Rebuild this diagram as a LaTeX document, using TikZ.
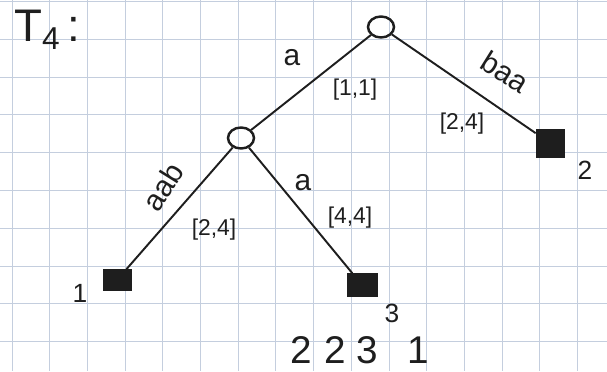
\documentclass[tikz,border=0pt]{standalone}
\usepackage{fontspec}
\setmainfont{Liberation Sans}
\usetikzlibrary{shapes,arrows}
\definecolor{gridblue}{RGB}{196,206,222}
\definecolor{ink}{RGB}{30,30,30}
\tikzstyle{inner} = [ellipse, draw=ink, line width=1.4pt, minimum width=0.52cm, minimum height=0.42cm, inner sep=0pt]
\tikzstyle{leaf} = [rectangle, fill=ink, draw=ink, minimum width=0.56cm, minimum height=0.42cm, inner sep=0pt]
\tikzstyle{edge} = [draw=ink, line width=1.1pt]
\tikzstyle{letter} = [text=ink, font=\fontsize{17}{20}\selectfont, inner sep=1pt]
\tikzstyle{interval} = [text=ink, font=\fontsize{13}{15}\selectfont]
\tikzstyle{number} = [text=ink, font=\fontsize{15}{18}\selectfont]

\begin{document}
\begin{tikzpicture}[x=0.02cm, y=-0.02cm]
\useasboundingbox (0,0) rectangle (607,371);
% grid paper
\foreach \k in {0,...,15} \draw[gridblue, line width=0.5pt] (12+37.7*\k,0) -- (12+37.7*\k,371);
\foreach \k in {0,...,9} \draw[gridblue, line width=0.5pt] (0,1.5+37.8*\k) -- (607,1.5+37.8*\k);

\node (title) [text=ink, font=\fontsize{26}{30}\selectfont, anchor=west] at (8,30) {T\raisebox{-0.35ex}{\fontsize{18}{20}\selectfont 4}\,:};

\node (root) [inner] at (381,27) {};
\node (mid) [inner] at (241,138) {};
\node (leaf1) [leaf] at (117,280) {};
\node (leaf2) [leaf, minimum height=0.56cm] at (550,143) {};
\node (leaf3) [leaf, minimum width=0.6cm, minimum height=0.46cm] at (362,285) {};

\draw [edge] (root) -- (mid);
\draw [edge] (root) -- (leaf2);
\draw [edge] (mid) -- (leaf1);
\draw [edge] (mid) -- (leaf3);

% edge labels
\node (lroot) [letter] at (292,58) {a};
\node (iroot) [interval] at (355,90) {[1,1]};
\node (lright) [letter, rotate=-32] at (505,72) {baa};
\node (iright) [interval] at (462,124) {[2,4]};
\node (lleft) [letter, rotate=58] at (163,187) {aab};
\node (ileft) [interval] at (214,230) {[2,4]};
\node (lmid) [letter] at (303,183) {a};
\node (imid) [interval] at (350,218) {[4,4]};

% leaf numbers
\node (n1) [number] at (80,293) {1};
\node (n2) [number] at (585,170) {2};
\node (n3) [number] at (392,313) {3};
\node (order) [text=ink, font=\fontsize{22}{26}\selectfont] at (360,350) {2\hspace{0.25cm}2\hspace{0.2cm}3\hspace{0.6cm}1};
\end{tikzpicture}
\end{document}
